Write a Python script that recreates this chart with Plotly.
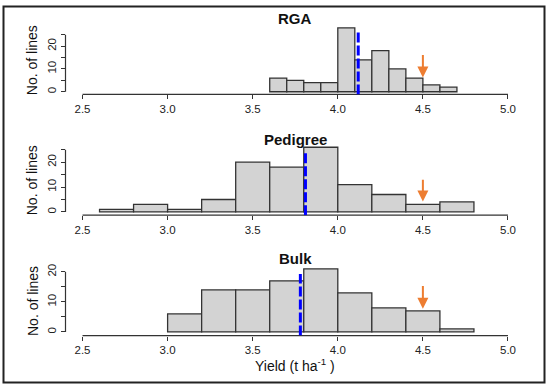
import plotly.graph_objects as go

# ---------------- data ----------------
x_tick_values = [2.5, 3.0, 3.5, 4.0, 4.5, 5.0]
x_tick_labels = ["2.5", "3.0", "3.5", "4.0", "4.5", "5.0"]

panel_names = ["RGA", "Pedigree", "Bulk"]

rga_bin_starts = [3.6, 3.7, 3.8, 3.9, 4.0, 4.1, 4.2, 4.3, 4.4, 4.5, 4.6]
rga_counts = [6, 5, 4, 4, 28, 14, 18, 10, 6, 3, 2]
rga_bin_width = 0.1
rga_mean = 4.12

ped_bin_starts = [2.6, 2.8, 3.0, 3.2, 3.4, 3.6, 3.8, 4.0, 4.2, 4.4, 4.6]
ped_counts = [1, 3, 1, 5, 20, 18, 26, 11, 7, 3, 4]
ped_bin_width = 0.2
ped_mean = 3.81

bulk_bin_starts = [3.0, 3.2, 3.4, 3.6, 3.8, 4.0, 4.2, 4.4, 4.6]
bulk_counts = [6, 14, 14, 17, 21, 13, 8, 7, 1]
bulk_bin_width = 0.2
bulk_mean = 3.78

check_yield = 4.5
y_ticks_25 = [0, 5, 10, 15, 20, 25]
y_ticks_20 = [0, 5, 10, 15, 20]

# ---------------- layout helpers ----------------
W, H = 550, 389
def px_x(p):
    return p / W
def px_y(p):
    return 1 - p / H

FONT = "Liberation Sans, Arial, sans-serif"
BAR_FILL = "#D3D3D3"
BAR_EDGE = "#333333"
AXIS_COL = "#333333"
ORANGE = "#ED7D31"
BLUE = "#0000FF"

panels = [
    dict(name=panel_names[0], starts=rga_bin_starts, counts=rga_counts, w=rga_bin_width,
         mean=rga_mean, mean_top=26.3, arrow_top=16.8, arrow_tip=6.2,
         yrange=[-1.2, 29.1], ydom=(92.95, 23.45), yticks=y_ticks_25, title_y=16.7),
    dict(name=panel_names[1], starts=ped_bin_starts, counts=ped_counts, w=ped_bin_width,
         mean=ped_mean, mean_top=23.7, arrow_top=13.5, arrow_tip=4.2,
         yrange=[-1.3, 27.0], ydom=(214.25, 143.5), yticks=y_ticks_25, title_y=138.3),
    dict(name=panel_names[2], starts=bulk_bin_starts, counts=bulk_counts, w=bulk_bin_width,
         mean=bulk_mean, mean_top=19.3, arrow_top=15.8, arrow_tip=7.7,
         yrange=[-1.2, 22.0], ydom=(335.3, 265.2), yticks=y_ticks_20, title_y=258.3),
]

x_dom = [px_x(65.5), px_x(525.0)]

fig = go.Figure()
shapes = []
annotations = []
layout = {}

for i, p in enumerate(panels, start=1):
    sfx = "" if i == 1 else str(i)
    xa, ya = f"x{sfx}", f"y{sfx}"
    centers = [s + p["w"] / 2 for s in p["starts"]]
    fig.add_trace(go.Bar(
        x=centers, y=p["counts"], width=[p["w"]] * len(centers),
        marker=dict(color=BAR_FILL, line=dict(color=BAR_EDGE, width=1.3)),
        xaxis=xa, yaxis=ya, showlegend=False, hoverinfo="skip",
    ))
    bottom_px, top_px = p["ydom"]
    layout[f"xaxis{sfx}"] = dict(
        domain=x_dom, range=[2.4, 5.1], anchor=ya,
        tickmode="array", tickvals=x_tick_values, ticktext=x_tick_labels,
        ticks="outside", ticklen=4, tickwidth=1, tickcolor=AXIS_COL,
        showline=False, showgrid=False, zeroline=False,
        tickfont=dict(family=FONT, size=11.5, color="#222222"),
    )
    layout[f"yaxis{sfx}"] = dict(
        domain=[px_y(bottom_px), px_y(top_px)], range=p["yrange"], anchor=xa,
        tickmode="array", tickvals=p["yticks"],
        ticktext=[str(v) if v % 10 == 0 else "" for v in p["yticks"]],
        ticks="outside", ticklen=4, tickwidth=1, tickcolor=AXIS_COL,
        tickangle=-90,
        showline=False, showgrid=False, zeroline=False,
        tickfont=dict(family=FONT, size=11.5, color="#222222"),
    )
    # R-style axis lines spanning only the tick range
    shapes.append(dict(type="line", xref=xa, yref=f"{ya} domain",
                       x0=x_tick_values[0], x1=x_tick_values[-1], y0=0, y1=0,
                       line=dict(color=AXIS_COL, width=1.2)))
    shapes.append(dict(type="line", xref=f"{xa} domain", yref=ya,
                       x0=0, x1=0, y0=p["yticks"][0], y1=p["yticks"][-1],
                       line=dict(color=AXIS_COL, width=1.2)))
    # mean line (dashed blue)
    shapes.append(dict(type="line", xref=xa, yref=ya,
                       x0=p["mean"], x1=p["mean"], y0=p["yrange"][0], y1=p["mean_top"],
                       line=dict(color=BLUE, width=3, dash="10px,3px")))
    # check arrow (orange)
    annotations.append(dict(
        x=check_yield, y=p["arrow_tip"], ax=check_yield, ay=p["arrow_top"],
        xref=xa, yref=ya, axref=xa, ayref=ya, text="", showarrow=True,
        arrowhead=2, arrowsize=1.1, arrowwidth=2, arrowcolor=ORANGE, standoff=0,
    ))
    # panel title
    annotations.append(dict(
        x=(x_dom[0] + x_dom[1]) / 2, y=px_y(p["title_y"]), xref="paper", yref="paper",
        text=f"<b>{p['name']}</b>", showarrow=False, xanchor="center", yanchor="middle",
        font=dict(family=FONT, size=15, color="#111111"),
    ))
    # y title
    annotations.append(dict(
        x=px_x(32.3), y=px_y((bottom_px + top_px) / 2), xref="paper", yref="paper",
        text="No. of lines", textangle=-90, showarrow=False,
        xanchor="center", yanchor="middle",
        font=dict(family=FONT, size=14, color="#111111"),
    ))

# x title
annotations.append(dict(
    x=px_x(295), y=px_y(365), xref="paper", yref="paper",
    text="Yield (t ha<sup>-1</sup> )", showarrow=False,
    xanchor="center", yanchor="middle",
    font=dict(family=FONT, size=14, color="#111111"),
))

# outer frame
shapes.append(dict(type="rect", xref="paper", yref="paper",
                   x0=px_x(3.5), x1=px_x(544.5), y0=px_y(382.5), y1=px_y(4.5),
                   line=dict(color="#222222", width=2)))

fig.update_layout(
    width=W, height=H, margin=dict(l=0, r=0, t=0, b=0),
    paper_bgcolor="white", plot_bgcolor="white",
    shapes=shapes, annotations=annotations, bargap=0,
    **layout,
)

fig.write_html(
    "out.html",
    config={"displayModeBar": False, "staticPlot": True},
    post_script="document.body.style.margin='0';document.body.style.overflow='hidden';",
)
